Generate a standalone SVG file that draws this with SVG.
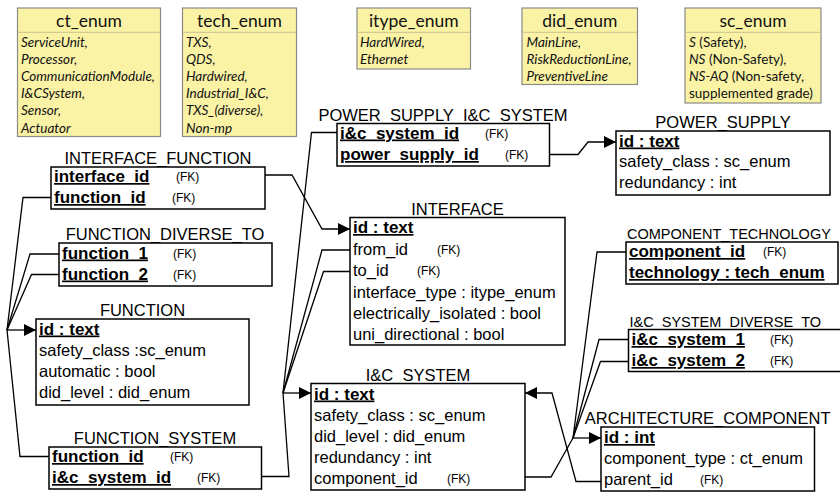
<svg xmlns="http://www.w3.org/2000/svg" width="840" height="492" viewBox="0 0 840 492">
  <defs>
    <marker id="arrow" markerUnits="userSpaceOnUse" markerWidth="12" markerHeight="12" viewBox="0 0 10 10" refX="10" refY="5" orient="auto">
      <path d="M0,0 L10,5 L0,10 Z" fill="#000"/>
    </marker>
    <style>
      .enum rect { fill: #faf3a6; stroke: #8a8a8a; stroke-width: 1.2; }
      .enum line { stroke: #c9c08a; stroke-width: 1; }
      .etitle { font-family: Lato, "Liberation Sans", sans-serif; font-size: 17.5px; fill: #111; text-anchor: middle; }
      .eitem { font-family: Lato, "Liberation Sans", sans-serif; font-size: 13.5px; fill: #111; font-style: italic; }
      .eitem .up { font-style: normal; }
      .table rect { fill: #fff; stroke: #000; stroke-width: 1.5; }
      .ttitle { font-family: "Liberation Sans", Arial, sans-serif; font-size: 16.5px; fill: #000; text-anchor: middle; }
      .ttitle.edge { text-anchor: start; font-size: 14.5px; }
      .row { font-family: "Liberation Sans", Arial, sans-serif; font-size: 16.5px; fill: #000; }
      .key { font-weight: bold; font-size: 17px; text-decoration: underline; }
      .fk { font-family: "Liberation Sans", Arial, sans-serif; font-size: 12px; fill: #000; }
      .conn path { fill: none; stroke: #000; stroke-width: 1.3; }
      .conn .arr { marker-end: url(#arrow); }
    </style>
  </defs>

  <!-- enumerations -->
  <g id="ct_enum" class="enum">
    <rect x="17.5" y="8" width="143" height="128.5"/>
    <line x1="18" y1="32.3" x2="160" y2="32.3"/>
    <text class="etitle" x="89" y="27">ct_enum</text>
    <text class="eitem" x="21" y="46.5">ServiceUnit,</text>
    <text class="eitem" x="21" y="63.7">Processor,</text>
    <text class="eitem" x="21" y="80.9">CommunicationModule,</text>
    <text class="eitem" x="21" y="98.1">I&amp;CSystem,</text>
    <text class="eitem" x="21" y="115.3">Sensor,</text>
    <text class="eitem" x="21" y="132.5">Actuator</text>
  </g>
  <g id="tech_enum" class="enum">
    <rect x="182.5" y="8" width="114" height="128.5"/>
    <line x1="183" y1="32.3" x2="296" y2="32.3"/>
    <text class="etitle" x="239.5" y="27">tech_enum</text>
    <text class="eitem" x="186" y="46.5">TXS,</text>
    <text class="eitem" x="186" y="63.7">QDS,</text>
    <text class="eitem" x="186" y="80.9">Hardwired,</text>
    <text class="eitem" x="186" y="98.1">Industrial_I&amp;C,</text>
    <text class="eitem" x="186" y="115.3">TXS_(diverse),</text>
    <text class="eitem" x="186" y="132.5">Non-mp</text>
  </g>
  <g id="itype_enum" class="enum">
    <rect x="357" y="8" width="113.5" height="61"/>
    <line x1="357.5" y1="32.3" x2="470" y2="32.3"/>
    <text class="etitle" x="413.8" y="27">itype_enum</text>
    <text class="eitem" x="360" y="46.5">HardWired,</text>
    <text class="eitem" x="360" y="63.7">Ethernet</text>
  </g>
  <g id="did_enum" class="enum">
    <rect x="522" y="8" width="115.5" height="76.5"/>
    <line x1="522.5" y1="32.3" x2="637" y2="32.3"/>
    <text class="etitle" x="579.8" y="27">did_enum</text>
    <text class="eitem" x="526.5" y="46.5">MainLine,</text>
    <text class="eitem" x="526.5" y="63.7">RiskReductionLine,</text>
    <text class="eitem" x="526.5" y="80.9">PreventiveLine</text>
  </g>
  <g id="sc_enum" class="enum">
    <rect x="685" y="8" width="136" height="95"/>
    <line x1="685.5" y1="32.3" x2="820.5" y2="32.3"/>
    <text class="etitle" x="753" y="27">sc_enum</text>
    <text class="eitem" x="689" y="46.5">S<tspan class="up"> (Safety),</tspan></text>
    <text class="eitem" x="689" y="63.7">NS<tspan class="up"> (Non-Safety),</tspan></text>
    <text class="eitem" x="689" y="80.9">NS-AQ<tspan class="up"> (Non-safety,</tspan></text>
    <text class="eitem" x="689" y="98.1"><tspan class="up">supplemented grade)</tspan></text>
  </g>

  <!-- tables -->
  <g id="interface_function" class="table">
    <text class="ttitle" x="158" y="164">INTERFACE_FUNCTION</text>
    <rect x="51" y="167" width="214" height="42"/>
    <text class="row key" x="54" y="182">interface_id</text>
    <text class="fk" x="176" y="181">(FK)</text>
    <text class="row key" x="54" y="203">function_id</text>
    <text class="fk" x="172" y="202">(FK)</text>
  </g>
  <g id="function_diverse_to" class="table">
    <text class="ttitle" x="165" y="240">FUNCTION_DIVERSE_TO</text>
    <rect x="59" y="243" width="213" height="43"/>
    <text class="row key" x="62" y="258.5">function_1</text>
    <text class="fk" x="173" y="257.5">(FK)</text>
    <text class="row key" x="62" y="279.5">function_2</text>
    <text class="fk" x="173" y="278.5">(FK)</text>
  </g>
  <g id="function" class="table">
    <text class="ttitle" x="142.5" y="316">FUNCTION</text>
    <rect x="36" y="319" width="213" height="86"/>
    <text class="row key" x="39" y="334.5">id : text</text>
    <text class="row" x="39" y="356">safety_class :sc_enum</text>
    <text class="row" x="39" y="377">automatic : bool</text>
    <text class="row" x="39" y="398">did_level : did_enum</text>
  </g>
  <g id="function_system" class="table">
    <text class="ttitle" x="155" y="444">FUNCTION_SYSTEM</text>
    <rect x="49" y="447" width="212.5" height="42"/>
    <text class="row key" x="52" y="462">function_id</text>
    <text class="fk" x="170" y="461">(FK)</text>
    <text class="row key" x="52" y="483">i&amp;c_system_id</text>
    <text class="fk" x="197" y="482">(FK)</text>
  </g>
  <g id="power_supply_ic_system" class="table">
    <text class="ttitle" x="443" y="120.5">POWER_SUPPLY_I&amp;C_SYSTEM</text>
    <rect x="337" y="123.5" width="212.5" height="42.5"/>
    <text class="row key" x="340" y="138.5">i&amp;c_system_id</text>
    <text class="fk" x="485" y="137.5">(FK)</text>
    <text class="row key" x="340" y="160">power_supply_id</text>
    <text class="fk" x="505" y="159">(FK)</text>
  </g>
  <g id="interface" class="table">
    <text class="ttitle" x="457.5" y="214.5">INTERFACE</text>
    <rect x="350" y="217.5" width="215" height="127.5"/>
    <text class="row key" x="353" y="233">id : text</text>
    <text class="row" x="353" y="254.5">from_id</text>
    <text class="fk" x="437" y="253.5">(FK)</text>
    <text class="row" x="353" y="276">to_id</text>
    <text class="fk" x="417" y="275">(FK)</text>
    <text class="row" x="353" y="297.5">interface_type : itype_enum</text>
    <text class="row" x="353" y="318.5">electrically_isolated : bool</text>
    <text class="row" x="353" y="340">uni_directional : bool</text>
  </g>
  <g id="power_supply" class="table">
    <text class="ttitle" x="723" y="128">POWER_SUPPLY</text>
    <rect x="616" y="131" width="214" height="64"/>
    <text class="row key" x="619" y="146.5">id : text</text>
    <text class="row" x="619" y="167">safety_class : sc_enum</text>
    <text class="row" x="619" y="188">redundancy : int</text>
  </g>
  <g id="component_technology" class="table">
    <text class="ttitle edge" x="627" y="239">COMPONENT_TECHNOLOGY</text>
    <rect x="626" y="242" width="212" height="42"/>
    <text class="row key" x="629" y="257">component_id</text>
    <text class="fk" x="763" y="256">(FK)</text>
    <text class="row key" x="629" y="278">technology : tech_enum</text>
  </g>
  <g id="ic_system_diverse_to" class="table">
    <text class="ttitle edge" x="629.5" y="326.5">I&amp;C_SYSTEM_DIVERSE_TO</text>
    <rect x="628.5" y="329.5" width="224" height="42"/>
    <text class="row key" x="631.5" y="345">i&amp;c_system_1</text>
    <text class="fk" x="770" y="344">(FK)</text>
    <text class="row key" x="631.5" y="366">i&amp;c_system_2</text>
    <text class="fk" x="770" y="365">(FK)</text>
  </g>
  <g id="architecture_component" class="table">
    <text class="ttitle" x="707.7" y="424">ARCHITECTURE_COMPONENT</text>
    <rect x="601" y="427" width="213.5" height="64"/>
    <text class="row key" x="604" y="443">id : int</text>
    <text class="row" x="604" y="464">component_type : ct_enum</text>
    <text class="row" x="604" y="485">parent_id</text>
    <text class="fk" x="700" y="484">(FK)</text>
  </g>
  <g id="ic_system" class="table">
    <text class="ttitle" x="418" y="380.5">I&amp;C_SYSTEM</text>
    <rect x="311" y="383.5" width="214" height="106.5"/>
    <text class="row key" x="314" y="399.5">id : text</text>
    <text class="row" x="314" y="421">safety_class : sc_enum</text>
    <text class="row" x="314" y="442">did_level : did_enum</text>
    <text class="row" x="314" y="463">redundancy : int</text>
    <text class="row" x="314" y="484">component_id</text>
    <text class="fk" x="447" y="483">(FK)</text>
  </g>

  <!-- relationships -->
  <g id="connectors" class="conn">
    <!-- references to FUNCTION.id -->
    <path d="M51,197.5 H23 L7,330"/>
    <path d="M59,254 H30 L7,330"/>
    <path d="M59,274.5 H31.5 L7,330"/>
    <path d="M49,456.5 H20 L7,330"/>
    <path class="arr" d="M7,330 H36"/>
    <!-- INTERFACE_FUNCTION.interface_id to INTERFACE.id -->
    <path class="arr" d="M265,175 H292 L322,229 H350"/>
    <!-- references to I&C_SYSTEM.id -->
    <path d="M337,132.5 H311.5 L283,393"/>
    <path d="M350,250 H322 L283,393"/>
    <path d="M350,271.5 H323.5 L283,393"/>
    <path d="M261.5,476.5 H289 L283,393"/>
    <path class="arr" d="M283,393 H311"/>
    <!-- power supply link -->
    <path class="arr" d="M549.5,154.5 H578 L588,142 H616"/>
    <!-- references to ARCHITECTURE_COMPONENT.id -->
    <path d="M626,252 H597 L573,438"/>
    <path d="M628.5,339.5 H599 L573,438"/>
    <path d="M628.5,361.5 H600.5 L573,438"/>
    <path d="M525,477 H551 L573,438"/>
    <path class="arr" d="M573,438 H601"/>
    <!-- ARCHITECTURE_COMPONENT.parent_id to I&C_SYSTEM.id -->
    <path class="arr" d="M601,481.5 H576 L552,393 H525"/>
  </g>
</svg>
